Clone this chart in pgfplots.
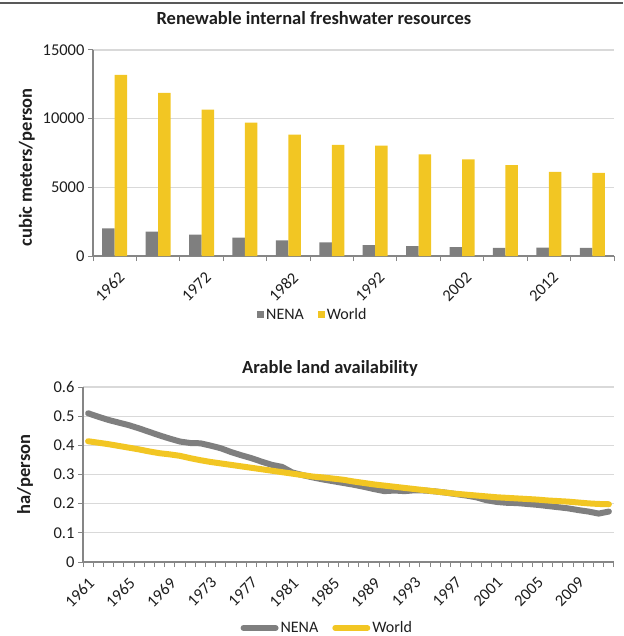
\documentclass[border=0pt]{standalone}
\usepackage{fontspec}
\setmainfont{Carlito}
\usepackage{pgfplots}
\pgfplotsset{compat=1.18}
\definecolor{nena}{RGB}{127,127,127}
\definecolor{world}{RGB}{242,198,35}
\definecolor{axisgray}{RGB}{134,134,134}
\definecolor{gridgray}{RGB}{217,217,217}
\definecolor{txt}{RGB}{30,30,30}

\pgfplotsset{
  excel/.style={
    scale only axis,
    enlargelimits=false,
    axis x line*=bottom, axis y line*=left,
    x axis line style={-, axisgray, line width=1.5pt},
    y axis line style={-, axisgray, line width=1.5pt},
    ymajorgrids, major grid style={gridgray, line width=1.2pt},
    tick align=outside,
    major tick length=5pt, minor tick length=5pt,
    major x tick style={draw=none},
    minor x tick style={axisgray, line width=1pt},
    major y tick style={axisgray, line width=1pt},
    tick label style={font=\fontsize{16.5}{19}\selectfont, text=txt},
    xticklabel style={rotate=45, anchor=north east, inner sep=0pt},
    /pgf/number format/assume math mode=true,
    /pgf/number format/1000 sep={},
    scaled y ticks=false,
    title style={anchor=center, font=\bfseries\fontsize{18.5}{21}\selectfont, text=txt},
    ylabel style={anchor=center, font=\bfseries\fontsize{18.5}{21}\selectfont, text=txt},
    legend style={draw=none, fill=none, anchor=center, font=\fontsize{16}{19}\selectfont, text=txt,
      /tikz/every even column/.append style={column sep=12pt}},
    legend columns=2,
  }
}

\begin{document}
\begin{tikzpicture}
\path[use as bounding box] (0pt,0pt) rectangle (623pt,-636pt);
\draw[black!65, line width=1.5pt] (0pt,-3pt) -- (623pt,-3pt);

% renewable freshwater, one group per 5 years
\begin{axis}[excel,
  at={(93pt,-256pt)}, anchor=south west,
  width=521pt, height=206pt,
  xmin=-0.5, xmax=11.5, ymin=0, ymax=15000,
  ytick={0,5000,10000,15000},
  xtick={0,2,4,6,8,10},
  xticklabels={1962,1972,1982,1992,2002,2012},
  minor xtick={-0.5,0.5,...,11.5},
  xticklabel style={xshift=-5pt, yshift=-9pt},
  ybar=0pt, bar width=12.5pt,
  title={Renewable internal freshwater resources},
  title style={at={(axis description cs:0.424,1.126)}},
  ylabel={cubic meters/person},
  ylabel style={at={(axis description cs:-0.127,0.43)}},
  legend style={at={(axis description cs:0.422,-0.286)}},
  legend image code/.code={\fill[#1] (0pt,-3.5pt) rectangle (7pt,3.5pt);},
]
\addplot[fill=nena, draw=none] coordinates {
  (0,2015) (1,1772) (2,1553) (3,1335) (4,1141) (5,995)
  (6,801) (7,728) (8,655) (9,583) (10,607) (11,583)
};
\addplot[fill=world, draw=none] coordinates {
  (0,13180) (1,11869) (2,10655) (3,9709) (4,8835) (5,8083)
  (6,8034) (7,7403) (8,7039) (9,6626) (10,6117) (11,6044)
};
\legend{NENA, World}
\end{axis}

% arable land
\begin{axis}[excel,
  at={(83pt,-562pt)}, anchor=south west,
  width=531pt, height=175pt,
  xmin=1960.5, xmax=2012.5, ymin=0, ymax=0.6,
  ytick={0,0.1,0.2,0.3,0.4,0.5,0.6},
  yticklabels={0,0.1,0.2,0.3,0.4,0.5,0.6},
  xtick={1961,1965,...,2009},
  minor xtick={1960.5,1961.5,...,2012.5},
  xticklabel style={xshift=-7pt, yshift=-6pt},
  clip=false,
  title={Arable land availability},
  title style={at={(axis description cs:0.465,1.069)}},
  ylabel={ha/person},
  ylabel style={at={(axis description cs:-0.109,0.5)}},
  legend style={at={(axis description cs:0.46,-0.377)}},
  legend image code/.code={\draw[#1, line cap=round] (0pt,0pt) -- (32pt,0pt);},
]
\addplot[nena, line width=6pt, line join=round, line cap=round] coordinates {
  (1961,0.510) (1962,0.498) (1963,0.487) (1964,0.478) (1965,0.469)
  (1966,0.458) (1967,0.446) (1968,0.434) (1969,0.423) (1970,0.413)
  (1971,0.408) (1972,0.407) (1973,0.399) (1974,0.390) (1975,0.377)
  (1976,0.366) (1977,0.356) (1978,0.344) (1979,0.333) (1980,0.326)
  (1981,0.307) (1982,0.298) (1983,0.290) (1984,0.283) (1985,0.277)
  (1986,0.271) (1987,0.265) (1988,0.258) (1989,0.250) (1990,0.243)
  (1991,0.245) (1992,0.243) (1993,0.246) (1994,0.245) (1995,0.242)
  (1996,0.238) (1997,0.233) (1998,0.228) (1999,0.222) (2000,0.212)
  (2001,0.206) (2002,0.203) (2003,0.202) (2004,0.199) (2005,0.196)
  (2006,0.192) (2007,0.188) (2008,0.184) (2009,0.178) (2010,0.173)
  (2011,0.166) (2012,0.173)
};
\addplot[world, line width=6pt, line join=round, line cap=round] coordinates {
  (1961,0.414) (1962,0.409) (1963,0.404) (1964,0.398) (1965,0.392)
  (1966,0.386) (1967,0.379) (1968,0.373) (1969,0.369) (1970,0.364)
  (1971,0.356) (1972,0.349) (1973,0.343) (1974,0.338) (1975,0.333)
  (1976,0.328) (1977,0.323) (1978,0.318) (1979,0.313) (1980,0.308)
  (1981,0.303) (1982,0.298) (1983,0.293) (1984,0.290) (1985,0.286)
  (1986,0.282) (1987,0.276) (1988,0.271) (1989,0.266) (1990,0.262)
  (1991,0.258) (1992,0.254) (1993,0.250) (1994,0.246) (1995,0.242)
  (1996,0.238) (1997,0.234) (1998,0.231) (1999,0.228) (2000,0.225)
  (2001,0.222) (2002,0.220) (2003,0.218) (2004,0.216) (2005,0.214)
  (2006,0.211) (2007,0.209) (2008,0.207) (2009,0.204) (2010,0.201)
  (2011,0.199) (2012,0.198)
};
\legend{NENA, World}
\end{axis}
\end{tikzpicture}
\end{document}
